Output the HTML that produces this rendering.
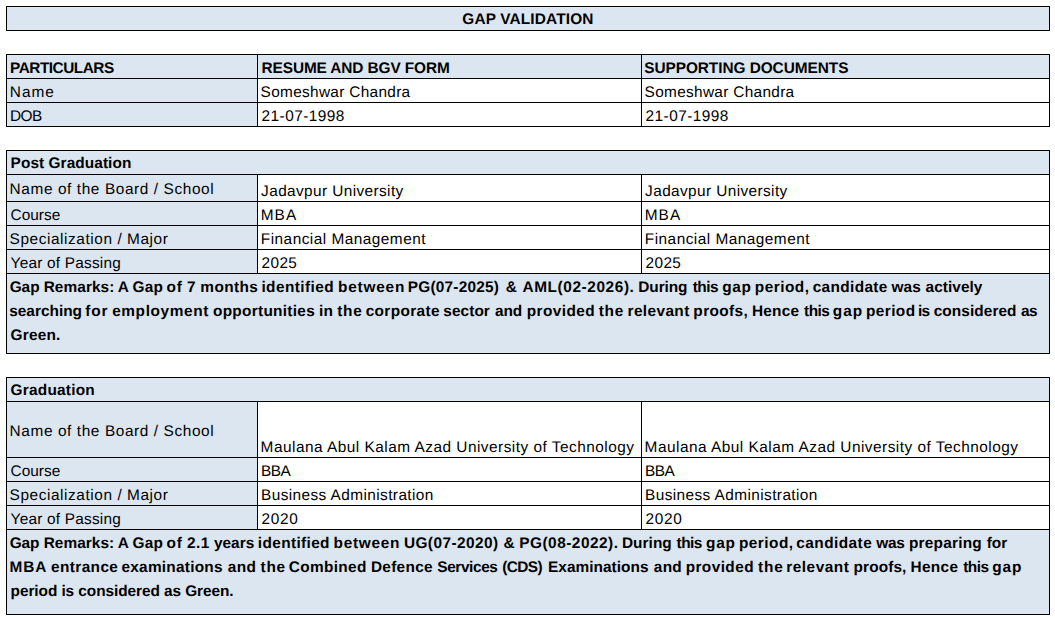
<!DOCTYPE html><html><head><meta charset='utf-8'><style>
html,body{margin:0;padding:0;background:#fff;}
#pg{position:relative;width:1055px;height:617px;overflow:hidden;background:#fff;}
.r,.h,.v,.t{position:absolute;}
.h{height:1px;background:#000;}.v{width:1px;background:#000;}
.t{font-family:'Liberation Sans',sans-serif;font-size:15.4px;line-height:15.4px;white-space:nowrap;color:#000;text-rendering:geometricPrecision;}
.b{font-weight:700;}
</style></head><body><div id='pg'>
<div class='r' style='left:6px;top:6px;width:1044px;height:25px;background:#dce6f1'></div>
<div class='r' style='left:6px;top:54px;width:1044px;height:25px;background:#dce6f1'></div>
<div class='r' style='left:6px;top:54px;width:252px;height:73px;background:#dce6f1'></div>
<div class='r' style='left:6px;top:150px;width:1044px;height:25px;background:#dce6f1'></div>
<div class='r' style='left:6px;top:174px;width:252px;height:100px;background:#dce6f1'></div>
<div class='r' style='left:6px;top:273px;width:1044px;height:81px;background:#dce6f1'></div>
<div class='r' style='left:6px;top:377px;width:1044px;height:25px;background:#dce6f1'></div>
<div class='r' style='left:6px;top:401px;width:252px;height:129px;background:#dce6f1'></div>
<div class='r' style='left:6px;top:529px;width:1044px;height:86px;background:#dce6f1'></div>
<div class='h' style='left:6px;top:6px;width:1044px'></div>
<div class='h' style='left:6px;top:30px;width:1044px'></div>
<div class='h' style='left:6px;top:54px;width:1044px'></div>
<div class='h' style='left:6px;top:126px;width:1044px'></div>
<div class='h' style='left:6px;top:78px;width:1044px'></div>
<div class='h' style='left:6px;top:102px;width:1044px'></div>
<div class='h' style='left:6px;top:150px;width:1044px'></div>
<div class='h' style='left:6px;top:353px;width:1044px'></div>
<div class='h' style='left:6px;top:174px;width:1044px'></div>
<div class='h' style='left:6px;top:201px;width:1044px'></div>
<div class='h' style='left:6px;top:225px;width:1044px'></div>
<div class='h' style='left:6px;top:249px;width:1044px'></div>
<div class='h' style='left:6px;top:273px;width:1044px'></div>
<div class='h' style='left:6px;top:377px;width:1044px'></div>
<div class='h' style='left:6px;top:614px;width:1044px'></div>
<div class='h' style='left:6px;top:401px;width:1044px'></div>
<div class='h' style='left:6px;top:457px;width:1044px'></div>
<div class='h' style='left:6px;top:481px;width:1044px'></div>
<div class='h' style='left:6px;top:505px;width:1044px'></div>
<div class='h' style='left:6px;top:529px;width:1044px'></div>
<div class='v' style='left:6px;top:6px;height:25px'></div>
<div class='v' style='left:1049px;top:6px;height:25px'></div>
<div class='v' style='left:6px;top:54px;height:73px'></div>
<div class='v' style='left:1049px;top:54px;height:73px'></div>
<div class='v' style='left:257px;top:54px;height:73px'></div>
<div class='v' style='left:641px;top:54px;height:73px'></div>
<div class='v' style='left:6px;top:150px;height:204px'></div>
<div class='v' style='left:1049px;top:150px;height:204px'></div>
<div class='v' style='left:257px;top:174px;height:100px'></div>
<div class='v' style='left:641px;top:174px;height:100px'></div>
<div class='v' style='left:6px;top:377px;height:238px'></div>
<div class='v' style='left:1049px;top:377px;height:238px'></div>
<div class='v' style='left:257px;top:401px;height:129px'></div>
<div class='v' style='left:641px;top:401px;height:129px'></div>
<div class='t b' style='left:462.30px;top:12px;letter-spacing:0.154px'>GAP VALIDATION</div>
<div class='t b' style='left:10.10px;top:61px;letter-spacing:-0.500px'>PARTICULARS</div>
<div class='t b' style='left:261.60px;top:61px;letter-spacing:-0.111px'>RESUME AND BGV FORM</div>
<div class='t b' style='left:644.20px;top:61px;letter-spacing:-0.053px'>SUPPORTING DOCUMENTS</div>
<div class='t' style='left:9.80px;top:85px;letter-spacing:1.000px'>Name</div>
<div class='t' style='left:260.60px;top:85px;letter-spacing:0.312px'>Someshwar Chandra</div>
<div class='t' style='left:644.60px;top:85px;letter-spacing:0.312px'>Someshwar Chandra</div>
<div class='t' style='left:9.90px;top:109px;letter-spacing:-0.500px'>DOB</div>
<div class='t' style='left:261.60px;top:109px;letter-spacing:0.444px'>21-07-1998</div>
<div class='t' style='left:645.60px;top:109px;letter-spacing:0.444px'>21-07-1998</div>
<div class='t b' style='left:10.60px;top:156px;letter-spacing:0.071px'>Post Graduation</div>
<div class='t' style='left:9.60px;top:182px;letter-spacing:0.600px'>Name of the Board / School</div>
<div class='t' style='left:10.60px;top:208px;letter-spacing:0.000px'>Course</div>
<div class='t' style='left:9.60px;top:232px;letter-spacing:0.571px'>Specialization / Major</div>
<div class='t' style='left:10.60px;top:256px;letter-spacing:0.214px'>Year of Passing</div>
<div class='t' style='left:261.10px;top:184px;letter-spacing:0.389px'>Jadavpur University</div>
<div class='t' style='left:260.80px;top:208px;letter-spacing:1.000px'>MBA</div>
<div class='t' style='left:260.80px;top:232px;letter-spacing:0.474px'>Financial Management</div>
<div class='t' style='left:261.60px;top:256px;letter-spacing:0.333px'>2025</div>
<div class='t' style='left:645.10px;top:184px;letter-spacing:0.389px'>Jadavpur University</div>
<div class='t' style='left:644.80px;top:208px;letter-spacing:1.000px'>MBA</div>
<div class='t' style='left:644.80px;top:232px;letter-spacing:0.474px'>Financial Management</div>
<div class='t' style='left:645.60px;top:256px;letter-spacing:0.333px'>2025</div>
<div class='t b' style='left:9.65px;top:280px;letter-spacing:-0.014px'>Gap</div>
<div class='t b' style='left:43.65px;top:280px;letter-spacing:0.079px'>Remarks:</div>
<div class='t b' style='left:117.7px;top:280px;letter-spacing:0.236px'>A</div>
<div class='t b' style='left:132.6px;top:280px;letter-spacing:0.236px'>Gap</div>
<div class='t b' style='left:166.4px;top:280px;letter-spacing:1.000px'>of</div>
<div class='t b' style='left:187.0px;top:280px;letter-spacing:0.236px'>7</div>
<div class='t b' style='left:200.35px;top:280px;letter-spacing:0.376px'>months</div>
<div class='t b' style='left:261.4px;top:280px;letter-spacing:0.436px'>identified</div>
<div class='t b' style='left:338.1px;top:280px;letter-spacing:0.769px'>between</div>
<div class='t b' style='left:407.8px;top:280px;letter-spacing:0.216px'>PG(07-2025)</div>
<div class='t b' style='left:505.65px;top:280px;letter-spacing:0.236px'>&amp;</div>
<div class='t b' style='left:522.5px;top:280px;letter-spacing:0.586px'>AML(02-2026).</div>
<div class='t b' style='left:638.3px;top:280px;letter-spacing:-0.084px'>During</div>
<div class='t b' style='left:692.7px;top:280px;letter-spacing:-0.498px'>this</div>
<div class='t b' style='left:722.2px;top:280px;letter-spacing:0.736px'>gap</div>
<div class='t b' style='left:754.75px;top:280px;letter-spacing:0.486px'>period,</div>
<div class='t b' style='left:812.7px;top:280px;letter-spacing:0.361px'>candidate</div>
<div class='t b' style='left:891.45px;top:280px;letter-spacing:0.086px'>was</div>
<div class='t b' style='left:925.55px;top:280px;letter-spacing:0.050px'>actively</div>
<div class='t b' style='left:9.2px;top:304px;letter-spacing:0.014px'>searching</div>
<div class='t b' style='left:85.2px;top:304px;letter-spacing:0.864px'>for</div>
<div class='t b' style='left:112.15px;top:304px;letter-spacing:0.620px'>employment</div>
<div class='t b' style='left:212.95px;top:304px;letter-spacing:0.289px'>opportunities</div>
<div class='t b' style='left:319.05px;top:304px;letter-spacing:0.064px'>in</div>
<div class='t b' style='left:337.25px;top:304px;letter-spacing:0.714px'>the</div>
<div class='t b' style='left:365.65px;top:304px;letter-spacing:0.352px'>corporate</div>
<div class='t b' style='left:443.35px;top:304px;letter-spacing:0.064px'>sector</div>
<div class='t b' style='left:495.05px;top:304px;letter-spacing:-0.086px'>and</div>
<div class='t b' style='left:526.65px;top:304px;letter-spacing:0.436px'>provided</div>
<div class='t b' style='left:598.65px;top:304px;letter-spacing:0.814px'>the</div>
<div class='t b' style='left:627.5px;top:304px;letter-spacing:0.393px'>relevant</div>
<div class='t b' style='left:693.35px;top:304px;letter-spacing:0.381px'>proofs,</div>
<div class='t b' style='left:752.1px;top:304px;letter-spacing:0.164px'>Hence</div>
<div class='t b' style='left:804.1px;top:304px;letter-spacing:-0.569px'>this</div>
<div class='t b' style='left:832.85px;top:304px;letter-spacing:0.914px'>gap</div>
<div class='t b' style='left:866.0px;top:304px;letter-spacing:0.404px'>period</div>
<div class='t b' style='left:917.9px;top:304px;letter-spacing:-0.600px'>is</div>
<div class='t b' style='left:933.65px;top:304px;letter-spacing:0.086px'>considered</div>
<div class='t b' style='left:1020.95px;top:304px;letter-spacing:-0.600px'>as</div>
<div class='t b' style='left:10.60px;top:328px;letter-spacing:0.200px'>Green.</div>
<div class='t b' style='left:10.60px;top:383px;letter-spacing:0.222px'>Graduation</div>
<div class='t' style='left:9.60px;top:424px;letter-spacing:0.600px'>Name of the Board / School</div>
<div class='t' style='left:10.60px;top:464px;letter-spacing:0.000px'>Course</div>
<div class='t' style='left:9.60px;top:488px;letter-spacing:0.571px'>Specialization / Major</div>
<div class='t' style='left:10.60px;top:512px;letter-spacing:0.214px'>Year of Passing</div>
<div class='t' style='left:260.60px;top:440px;letter-spacing:0.489px'>Maulana Abul Kalam Azad University of Technology</div>
<div class='t' style='left:261.00px;top:464px;letter-spacing:-0.500px'>BBA</div>
<div class='t' style='left:261.00px;top:488px;letter-spacing:0.409px'>Business Administration</div>
<div class='t' style='left:261.60px;top:512px;letter-spacing:0.667px'>2020</div>
<div class='t' style='left:644.60px;top:440px;letter-spacing:0.489px'>Maulana Abul Kalam Azad University of Technology</div>
<div class='t' style='left:645.00px;top:464px;letter-spacing:-0.500px'>BBA</div>
<div class='t' style='left:645.00px;top:488px;letter-spacing:0.409px'>Business Administration</div>
<div class='t' style='left:645.60px;top:512px;letter-spacing:0.667px'>2020</div>
<div class='t b' style='left:9.65px;top:536px;letter-spacing:-0.031px'>Gap</div>
<div class='t b' style='left:43.65px;top:536px;letter-spacing:0.062px'>Remarks:</div>
<div class='t b' style='left:117.7px;top:536px;letter-spacing:0.219px'>A</div>
<div class='t b' style='left:132.6px;top:536px;letter-spacing:0.219px'>Gap</div>
<div class='t b' style='left:166.4px;top:536px;letter-spacing:1.000px'>of</div>
<div class='t b' style='left:187.1px;top:536px;letter-spacing:0.419px'>2.1</div>
<div class='t b' style='left:213.9px;top:536px;letter-spacing:0.019px'>years</div>
<div class='t b' style='left:257.85px;top:536px;letter-spacing:0.363px'>identified</div>
<div class='t b' style='left:333.6px;top:536px;letter-spacing:0.719px'>between</div>
<div class='t b' style='left:403.9px;top:536px;letter-spacing:0.439px'>UG(07-2020)</div>
<div class='t b' style='left:503.5px;top:536px;letter-spacing:0.219px'>&amp;</div>
<div class='t b' style='left:519.25px;top:536px;letter-spacing:0.501px'>PG(08-2022).</div>
<div class='t b' style='left:621.9px;top:536px;letter-spacing:0.059px'>During</div>
<div class='t b' style='left:676.6px;top:536px;letter-spacing:-0.515px'>this</div>
<div class='t b' style='left:706.1px;top:536px;letter-spacing:0.719px'>gap</div>
<div class='t b' style='left:738.9px;top:536px;letter-spacing:0.485px'>period,</div>
<div class='t b' style='left:796.3px;top:536px;letter-spacing:0.444px'>candidate</div>
<div class='t b' style='left:876.3px;top:536px;letter-spacing:-0.281px'>was</div>
<div class='t b' style='left:909.0px;top:536px;letter-spacing:0.219px'>preparing</div>
<div class='t b' style='left:986.65px;top:536px;letter-spacing:0.069px'>for</div>
<div class='t b' style='left:9.4px;top:560px;letter-spacing:1.000px'>MBA</div>
<div class='t b' style='left:51.1px;top:560px;letter-spacing:0.375px'>entrance</div>
<div class='t b' style='left:121.5px;top:560px;letter-spacing:0.247px'>examinations</div>
<div class='t b' style='left:227.75px;top:560px;letter-spacing:0.425px'>and</div>
<div class='t b' style='left:260.55px;top:560px;letter-spacing:0.725px'>the</div>
<div class='t b' style='left:288.7px;top:560px;letter-spacing:0.346px'>Combined</div>
<div class='t b' style='left:370.9px;top:560px;letter-spacing:0.308px'>Defence</div>
<div class='t b' style='left:437.25px;top:560px;letter-spacing:-0.383px'>Services</div>
<div class='t b' style='left:502.25px;top:560px;letter-spacing:-0.600px'>(CDS)</div>
<div class='t b' style='left:548.05px;top:560px;letter-spacing:0.038px'>Examinations</div>
<div class='t b' style='left:653.8px;top:560px;letter-spacing:0.275px'>and</div>
<div class='t b' style='left:685.65px;top:560px;letter-spacing:0.417px'>provided</div>
<div class='t b' style='left:757.9px;top:560px;letter-spacing:0.975px'>the</div>
<div class='t b' style='left:786.25px;top:560px;letter-spacing:0.503px'>relevant</div>
<div class='t b' style='left:853.6px;top:560px;letter-spacing:0.108px'>proofs,</div>
<div class='t b' style='left:910.55px;top:560px;letter-spacing:0.300px'>Hence</div>
<div class='t b' style='left:963.3px;top:560px;letter-spacing:-0.559px'>this</div>
<div class='t b' style='left:992.35px;top:560px;letter-spacing:0.825px'>gap</div>
<div class='t b' style='left:10.60px;top:584px;letter-spacing:-0.069px'>period is considered as Green.</div>
</div></body></html>
